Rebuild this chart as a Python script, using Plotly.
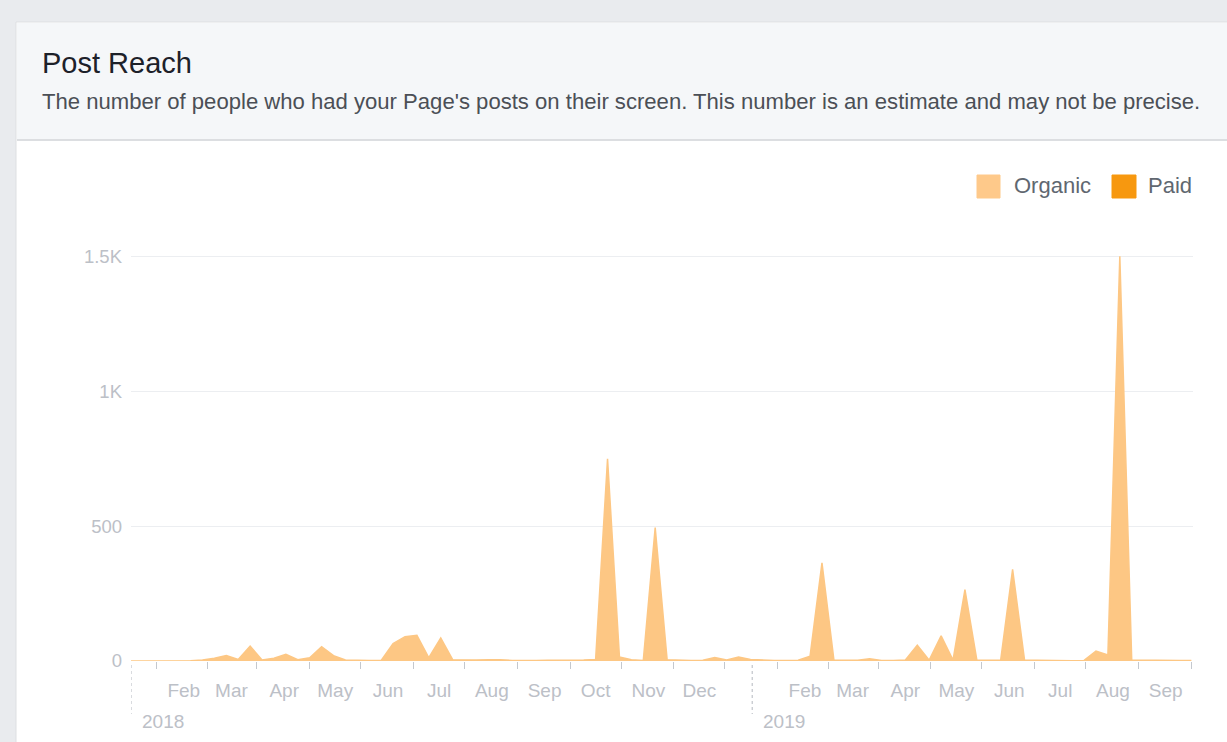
import pandas as pd
import plotly.graph_objects as go

# ---------------- data ----------------
start_date = "2018-01-01"          # first weekly point
n_weeks = 90
week_dates = pd.date_range(start_date, periods=n_weeks, freq="7D")

organic = [0, 0, 0, 0, 0, 1, 4, 10, 20, 6,
           55, 4, 10, 25, 5, 12, 53, 20, 4, 2,
           2, 2, 65, 90, 95, 12, 85, 5, 4, 4,
           5, 5, 2, 1, 2, 3, 3, 3, 4, 6,
           750, 15, 5, 2, 495, 5, 3, 2, 3, 13,
           4, 15, 6, 3, 2, 2, 3, 18, 364, 4,
           4, 3, 8, 2, 2, 4, 59, 3, 93, 3,
           265, 3, 3, 3, 340, 4, 3, 2, 1, 1,
           2, 37, 22, 1500, 4, 3, 3, 2, 2, 2]
paid = [0] * n_weeks

month_starts = ["2018-02-01", "2018-03-01", "2018-04-01", "2018-05-01", "2018-06-01",
                "2018-07-01", "2018-08-01", "2018-09-01", "2018-10-01", "2018-11-01",
                "2018-12-01", "2019-02-01", "2019-03-01", "2019-04-01", "2019-05-01",
                "2019-06-01", "2019-07-01", "2019-08-01", "2019-09-01"]
month_labels = ["Feb", "Mar", "Apr", "May", "Jun", "Jul", "Aug", "Sep", "Oct", "Nov",
                "Dec", "Feb", "Mar", "Apr", "May", "Jun", "Jul", "Aug", "Sep"]
mid_month_ticks = ["2018-01-16", "2018-02-15", "2018-03-16", "2018-04-16", "2018-05-16",
                   "2018-06-16", "2018-07-16", "2018-08-16", "2018-09-16", "2018-10-16",
                   "2018-11-16", "2018-12-16", "2019-01-16", "2019-02-15", "2019-03-16",
                   "2019-04-16", "2019-05-16", "2019-06-16", "2019-07-16", "2019-08-16",
                   "2019-09-16"]
year_starts = ["2018-01-01", "2019-01-01"]
year_labels = ["2018", "2019"]

y_tickvals = [0, 500, 1000, 1500]
y_ticktext = ["0", "500", "1K", "1.5K"]

# ---------------- style ----------------
W_FIG, H_FIG = 1227, 742
L, R, T, B = 131, 34, 255, 81
PW = W_FIG - L - R
PH = H_FIG - T - B
BASE = H_FIG - B


def px_x(px):
    return (px - L) / PW


def px_y(py):
    return (BASE - py) / PH


FONT = "Liberation Sans, Arial, Helvetica, sans-serif"
ORGANIC = "#fdc784"
PAID = "#f7980f"
AXIS_TXT = "#bcc0c7"

fig = go.Figure()
fig.add_trace(go.Scatter(x=week_dates, y=paid, mode="lines", fill="tozeroy",
                         line=dict(width=0, color=PAID), fillcolor=PAID,
                         showlegend=False, hoverinfo="skip"))
fig.add_trace(go.Scatter(x=week_dates, y=organic, mode="lines", fill="tozeroy",
                         line=dict(width=1.5, color=ORGANIC), fillcolor=ORGANIC,
                         showlegend=False, name="Organic"))

shapes = []
# card
shapes.append(dict(type="rect", xref="paper", yref="paper", layer="below",
                   x0=px_x(16), x1=px_x(1260), y0=px_y(22), y1=px_y(800),
                   fillcolor="#ffffff", line=dict(color="#dddfe2", width=1)))
shapes.append(dict(type="rect", xref="paper", yref="paper", layer="below",
                   x0=px_x(17), x1=px_x(1260), y0=px_y(23), y1=px_y(139),
                   fillcolor="#f5f7f9", line=dict(width=0)))
shapes.append(dict(type="line", xref="paper", yref="paper", layer="below",
                   x0=px_x(17), x1=px_x(1260), y0=px_y(140), y1=px_y(140),
                   line=dict(color="#dcdee1", width=2)))

# legend squares (pixel boxes converted to paper coords)
for (lx0, lx1, col) in [(977, 1000, "#fec98a"), (1112, 1136, PAID)]:
    shapes.append(dict(type="rect", xref="paper", yref="paper",
                       x0=px_x(lx0), x1=px_x(lx1), y0=px_y(198), y1=px_y(175),
                       fillcolor=col, line=dict(color=col, width=1)))

# year dashed markers
for d in year_starts:
    shapes.append(dict(type="line", xref="x", yref="paper", x0=d, x1=d,
                       y0=px_y(665), y1=px_y(714),
                       line=dict(color="#b4b8bf", width=1, dash="3px,3px")))

annotations = [
    dict(text="Post Reach", xref="paper", yref="paper", x=px_x(40), y=px_y(63),
         xanchor="left", yanchor="middle", showarrow=False,
         font=dict(family=FONT, size=29, color="#1d2129")),
    dict(text="The number of people who had your Page's posts on their screen. "
              "This number is an estimate and may not be precise.",
         xref="paper", yref="paper", x=px_x(40), y=px_y(102),
         xanchor="left", yanchor="middle", showarrow=False,
         font=dict(family=FONT, size=22.1, color="#4b4f56")),
    dict(text="Organic", xref="paper", yref="paper", x=px_x(1012), y=px_y(186),
         xanchor="left", yanchor="middle", showarrow=False,
         font=dict(family=FONT, size=22, color="#606770")),
    dict(text="Paid", xref="paper", yref="paper", x=px_x(1146), y=px_y(186),
         xanchor="left", yanchor="middle", showarrow=False,
         font=dict(family=FONT, size=22, color="#606770")),
]
for d, lab in zip(year_starts, year_labels):
    annotations.append(dict(text=lab, xref="x", yref="paper", x=d, y=px_y(721),
                            xanchor="left", yanchor="middle", xshift=9, showarrow=False,
                            font=dict(family=FONT, size=19, color=AXIS_TXT)))

fig.update_layout(
    width=W_FIG, height=H_FIG,
    margin=dict(l=L, r=R, t=T, b=B, pad=0),
    paper_bgcolor="#e9ebee",
    plot_bgcolor="rgba(0,0,0,0)",
    showlegend=False,
    shapes=shapes,
    annotations=annotations,
    font=dict(family=FONT),
    xaxis=dict(
        type="date",
        range=["2018-01-01", "2019-09-17"],
        tickmode="array", tickvals=month_starts, ticktext=month_labels,
        ticks="", showgrid=False, zeroline=False, showline=False,
        tickfont=dict(family=FONT, size=19, color=AXIS_TXT),
        ticklabelstandoff=16,
        minor=dict(tickmode="array", tickvals=mid_month_ticks, ticks="outside",
                   ticklen=7, tickcolor="#c4c8ce", tickwidth=1, showgrid=False),
        fixedrange=True,
    ),
    yaxis=dict(
        range=[0, 1505],
        tickmode="array", tickvals=y_tickvals, ticktext=y_ticktext,
        showgrid=True, gridcolor="#eceef1", gridwidth=1,
        zeroline=False, showline=False, ticks="",
        tickfont=dict(family=FONT, size=18.5, color=AXIS_TXT),
        ticklabelstandoff=8,
        fixedrange=True,
    ),
)

fig.write_html("out.html", config={"displayModeBar": False},
               post_script="document.body.style.margin='0';")
